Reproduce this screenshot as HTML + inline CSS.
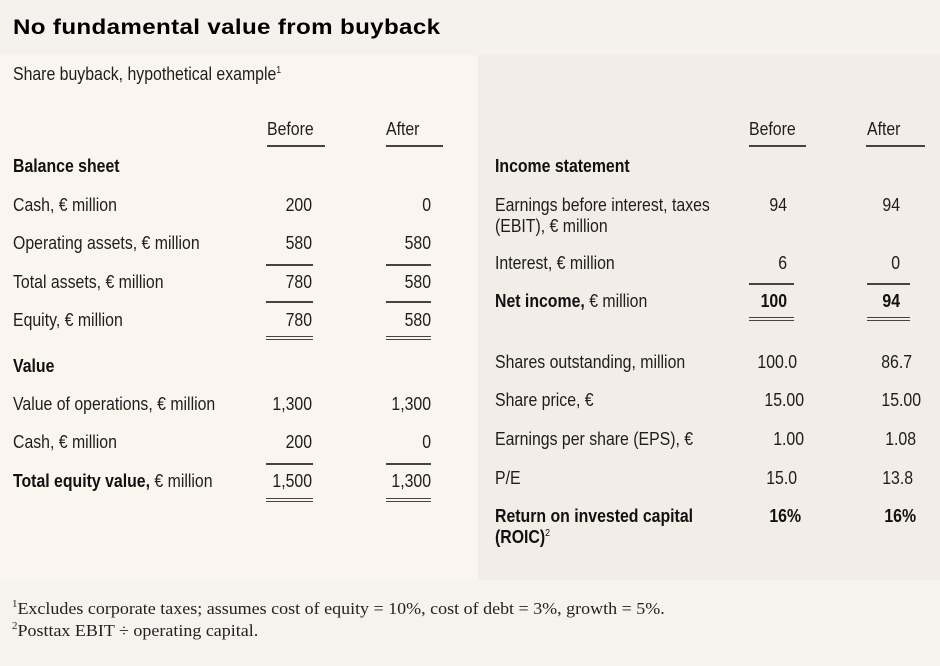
<!DOCTYPE html>
<html><head><meta charset="utf-8"><style>
body{margin:0;width:940px;height:666px;position:relative;overflow:hidden;background:#f6f3ee;font-family:"Liberation Sans",sans-serif;color:#1e1e1e}
.bg{position:absolute}
.t{position:absolute;white-space:nowrap;font-size:18px;line-height:20px;transform:scaleX(.88);transform-origin:0 0}
.r{transform-origin:100% 0;text-align:right}
.b{font-weight:bold;color:#111}
.l{position:absolute;height:2px;background:#444}
.d{position:absolute;border-top:1.5px solid #444;border-bottom:1.5px solid #444;height:2px}
sup{font-size:10px;vertical-align:7px;line-height:0}
.fn{position:absolute;left:12px;font-family:"Liberation Serif",serif;font-size:16.5px;color:#222;white-space:nowrap;transform:scaleX(1.09);transform-origin:0 0}
</style></head><body>
<div class="bg" style="left:0;top:0;width:940px;height:55px;background:#f5f2ed"></div>
<div class="bg" style="left:0;top:55px;width:478px;height:525px;background:#faf6ef"></div>
<div class="bg" style="left:478px;top:55px;width:462px;height:525px;background:#f2ede6"></div>
<div class="bg" style="left:0;top:580px;width:940px;height:86px;background:#f6f3ee"></div>

<div style="position:absolute;left:13px;top:16px;font-size:21px;font-weight:900;letter-spacing:0.3px;color:#000;white-space:nowrap;transform:scaleX(1.15);transform-origin:0 0">No fundamental value from buyback</div>
<div class="t" style="left:13px;top:64px">Share buyback, hypothetical example<sup>1</sup></div>

<div class="t" style="left:267px;top:119px">Before</div>
<div class="t" style="left:386px;top:119px">After</div>
<div class="l" style="left:267px;top:145px;width:58px"></div>
<div class="l" style="left:386px;top:145px;width:57px"></div>

<div class="t b" style="left:13px;top:156px">Balance sheet</div>
<div class="t" style="left:13px;top:195px">Cash, € million</div>
<div class="t" style="left:13px;top:233px">Operating assets, € million</div>
<div class="t" style="left:13px;top:272px">Total assets, € million</div>
<div class="t" style="left:13px;top:310px">Equity, € million</div>
<div class="t b" style="left:13px;top:356px">Value</div>
<div class="t" style="left:13px;top:394px">Value of operations, € million</div>
<div class="t" style="left:13px;top:432px">Cash, € million</div>
<div class="t" style="left:13px;top:471px"><b style="color:#111">Total equity value,</b> € million</div>

<div class="t r" style="right:628px;top:195px">200</div>
<div class="t r" style="right:509px;top:195px">0</div>
<div class="t r" style="right:628px;top:233px">580</div>
<div class="t r" style="right:509px;top:233px">580</div>
<div class="l" style="left:266px;top:264px;width:47px;height:1.5px"></div>
<div class="l" style="left:386px;top:264px;width:45px;height:1.5px"></div>
<div class="t r" style="right:628px;top:272px">780</div>
<div class="t r" style="right:509px;top:272px">580</div>
<div class="l" style="left:266px;top:301px;width:47px;height:1.5px"></div>
<div class="l" style="left:386px;top:301px;width:45px;height:1.5px"></div>
<div class="t r" style="right:628px;top:310px">780</div>
<div class="t r" style="right:509px;top:310px">580</div>
<div class="d" style="left:266px;top:336px;width:47px"></div>
<div class="d" style="left:386px;top:336px;width:45px"></div>
<div class="t r" style="right:628px;top:394px">1,300</div>
<div class="t r" style="right:509px;top:394px">1,300</div>
<div class="t r" style="right:628px;top:432px">200</div>
<div class="t r" style="right:509px;top:432px">0</div>
<div class="l" style="left:266px;top:463px;width:47px;height:1.5px"></div>
<div class="l" style="left:386px;top:463px;width:45px;height:1.5px"></div>
<div class="t r" style="right:628px;top:471px">1,500</div>
<div class="t r" style="right:509px;top:471px">1,300</div>
<div class="d" style="left:266px;top:498px;width:47px"></div>
<div class="d" style="left:386px;top:498px;width:45px"></div>

<div class="t" style="left:749px;top:119px">Before</div>
<div class="t" style="left:867px;top:119px">After</div>
<div class="l" style="left:749px;top:145px;width:57px"></div>
<div class="l" style="left:866px;top:145px;width:59px"></div>

<div class="t b" style="left:495px;top:156px">Income statement</div>
<div class="t" style="left:495px;top:195px">Earnings before interest, taxes</div>
<div class="t" style="left:495px;top:216px">(EBIT), € million</div>
<div class="t" style="left:495px;top:253px">Interest, € million</div>
<div class="t" style="left:495px;top:291px"><b style="color:#111">Net income,</b> € million</div>
<div class="t" style="left:495px;top:352px">Shares outstanding, million</div>
<div class="t" style="left:495px;top:390px">Share price, €</div>
<div class="t" style="left:495px;top:429px">Earnings per share (EPS), €</div>
<div class="t" style="left:495px;top:468px">P/E</div>
<div class="t b" style="left:495px;top:506px">Return on invested capital</div>
<div class="t b" style="left:495px;top:527px">(ROIC)<sup style="font-weight:normal">2</sup></div>

<div class="t r" style="right:153px;top:195px">94</div>
<div class="t r" style="right:40px;top:195px">94</div>
<div class="t r" style="right:153px;top:253px">6</div>
<div class="t r" style="right:40px;top:253px">0</div>
<div class="l" style="left:749px;top:283px;width:45px;height:1.5px"></div>
<div class="l" style="left:867px;top:283px;width:43px;height:1.5px"></div>
<div class="t r b" style="right:153px;top:291px">100</div>
<div class="t r b" style="right:40px;top:291px">94</div>
<div class="d" style="left:749px;top:317px;width:45px"></div>
<div class="d" style="left:867px;top:317px;width:43px"></div>
<div class="t r" style="right:143px;top:352px">100.0</div>
<div class="t r" style="right:28px;top:352px">86.7</div>
<div class="t r" style="right:136px;top:390px">15.00</div>
<div class="t r" style="right:19px;top:390px">15.00</div>
<div class="t r" style="right:136px;top:429px">1.00</div>
<div class="t r" style="right:24px;top:429px">1.08</div>
<div class="t r" style="right:143px;top:468px">15.0</div>
<div class="t r" style="right:27px;top:468px">13.8</div>
<div class="t r b" style="right:139px;top:506px">16%</div>
<div class="t r b" style="right:24px;top:506px">16%</div>

<div class="fn" style="top:599px"><sup>1</sup>Excludes corporate taxes; assumes cost of equity = 10%, cost of debt = 3%, growth = 5%.</div>
<div class="fn" style="top:621px"><sup>2</sup>Posttax EBIT ÷ operating capital.</div>
</body></html>
